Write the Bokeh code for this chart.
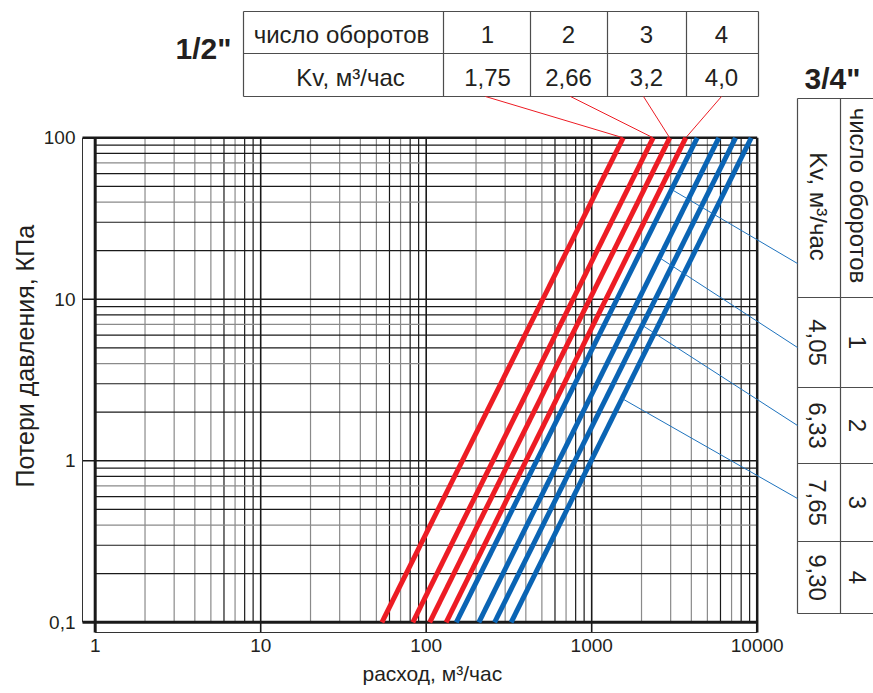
import math
from bokeh.plotting import figure
from bokeh.models import (Range1d, LinearScale, FixedTicker, CustomJSTickFormatter, Label, Title)
from bokeh.embed import file_html
from bokeh.resources import INLINE

# ---------------- data ----------------
turns = ["1", "2", "3", "4"]
kv_half_labels = ["1,75", "2,66", "3,2", "4,0"]          # 1/2"
kv_3q_labels = ["4,05", "6,33", "7,65", "9,30"]          # 3/4"
dp_ends = [0.1, 100]                                      # КПа
red_q_low = [54, 83, 105, 132]                            # flow at 0,1 КПа
red_q_high = [1550, 2350, 2960, 3700]                     # flow at 100 КПа
blue_q_low = [152, 208, 259, 326]
blue_q_high = [4340, 5860, 7400, 9200]
blue_leader_dp = [47.9, 18.1, 6.9, 2.43]                  # where leaders touch blue lines
x_ticks = [1, 10, 100, 1000, 10000]
y_ticks = [0.1, 1, 10, 100]

RED = "#ED1C24"
BLUE = "#0A64B4"
DARK = "#1a1a1a"
GRAY = "#8a8a8a"
TXT = "#231f20"
FONT = "Liberation Sans"

# ---------------- geometry (page pixels) ----------------
W, H = 873, 693
X0, DX = 94.7, 165.5      # page x of Q=1, px per decade
Y0, DY = 137.3, 161.5     # page y of 100 KPa, px per decade
FL, FR, FT, FB = 79, 873, 0, 635


def dx(px):
    return 10 ** ((px - X0) / DX)


def dy(py):
    return 10 ** (2 - (py - Y0) / DY)


def px_x(q):
    return X0 + DX * math.log10(q)


def px_y(v):
    return Y0 + DY * (2 - math.log10(v))


p = figure(width=W, height=H, x_axis_type="log", y_axis_type="log", title=None,
           x_range=Range1d(dx(FL), dx(FR)), y_range=Range1d(dy(FB), dy(FT)),
           output_backend="svg", toolbar_location=None,
           min_border_left=FL, min_border_right=W - FR,
           min_border_top=FT, min_border_bottom=H - FB)
p.extra_x_ranges = {"px": Range1d(FL, FR)}
p.extra_y_ranges = {"px": Range1d(FB, FT)}
p.extra_x_scales = {"px": LinearScale()}
p.extra_y_scales = {"px": LinearScale()}
p.outline_line_color = None
p.grid.visible = False
p.background_fill_color = "white"
p.border_fill_color = "white"

fmt = CustomJSTickFormatter(code="return String(tick).replace('.', ',');")
p.xaxis.ticker = FixedTicker(ticks=x_ticks, minor_ticks=[])
p.yaxis.ticker = FixedTicker(ticks=y_ticks, minor_ticks=[])
p.xaxis.formatter = fmt
p.yaxis.formatter = fmt
for ax in p.axis:
    ax.axis_line_color = None
    ax.major_tick_line_color = None
    ax.minor_tick_line_color = None
    ax.major_tick_out = 0
    ax.major_tick_in = 0
    ax.major_label_text_font = FONT
    ax.major_label_text_font_size = "19px"
    ax.major_label_text_color = TXT
p.xaxis.major_label_standoff = 3
p.yaxis.major_label_standoff = 4

# axis titles, positioned along their sides like the reference
p.add_layout(Title(text="Потери давления, КПа", align="left", offset=148, standoff=4,
                   vertical_align="bottom", text_font=FONT, text_font_size="25px",
                   text_font_style="normal", text_color=TXT), "left")
p.add_layout(Title(text="расход, м³/час", align="left", offset=283, standoff=14,
                   vertical_align="top", text_font=FONT, text_font_size="21px",
                   text_font_style="normal", text_color=TXT), "below")

# ---------------- grid ----------------
x_axis_pos = dx(82)      # offset y-axis line
y_axis_pos = dy(632)     # offset x-axis line
x_gray = {2, 3, 4, 5, 7}
y_gray = {4, 7}
for dec in [1, 10, 100, 1000]:
    for m in range(2, 10):
        v = dec * m
        p.segment(x0=[v], y0=[0.1], x1=[v], y1=[100],
                  line_color=GRAY if m in x_gray else DARK, line_width=1.2)
for dec in [0.1, 1, 10]:
    for m in range(2, 10):
        v = dec * m
        p.segment(x0=[1], y0=[v], x1=[10000], y1=[v],
                  line_color=GRAY if m in y_gray else DARK, line_width=1.2)
# major lines
p.segment(x0=[10, 100, 1000], y0=[y_axis_pos] * 3, x1=[10, 100, 1000], y1=[100] * 3,
          line_color=DARK, line_width=1.6)
p.segment(x0=[x_axis_pos] * 2, y0=[1, 10], x1=[10000] * 2, y1=[1, 10],
          line_color=DARK, line_width=1.6)
# axis lines
p.segment(x0=[x_axis_pos], y0=[0.1], x1=[x_axis_pos], y1=[100], line_color="#333333", line_width=1)
p.segment(x0=[1], y0=[y_axis_pos], x1=[10000], y1=[y_axis_pos], line_color="#333333", line_width=1)
# borders
p.segment(x0=[1], y0=[y_axis_pos], x1=[1], y1=[100], line_color=DARK, line_width=3)
p.segment(x0=[10000], y0=[y_axis_pos], x1=[10000], y1=[100], line_color=DARK, line_width=2.5)
p.segment(x0=[x_axis_pos], y0=[100], x1=[10000], y1=[100], line_color=DARK, line_width=2.5)
p.segment(x0=[x_axis_pos], y0=[0.1], x1=[10000], y1=[0.1], line_color=DARK, line_width=3)

# ---------------- curves ----------------
for lo, hi in zip(red_q_low, red_q_high):
    p.line(x=[lo, hi], y=dp_ends, line_color=RED, line_width=5)
for lo, hi in zip(blue_q_low, blue_q_high):
    p.line(x=[lo, hi], y=dp_ends, line_color=BLUE, line_width=5)


# ---------------- tables and leaders (page-pixel coordinates) ----------------
def seg(x0, y0, x1, y1, color="#4d4d4d", width=1.2):
    p.segment(x0=[x0], y0=[y0], x1=[x1], y1=[y1], line_color=color, line_width=width,
              x_range_name="px", y_range_name="px")


def txt(x, y, s, size="24px", style="normal", angle=0.0, baseline="middle"):
    p.add_layout(Label(x=x, y=y, text=s, text_font=FONT, text_font_size=size,
                       text_font_style=style, text_color=TXT, text_align="center",
                       text_baseline=baseline, angle=angle,
                       x_range_name="px", y_range_name="px"))


# top table (1/2")
tt_cols = [243, 443, 530, 607, 686, 758]
tt_rows = [11, 53, 96]
for yy in tt_rows:
    seg(tt_cols[0], yy, tt_cols[-1], yy)
for xx in tt_cols:
    seg(xx, tt_rows[0], xx, tt_rows[-1])
tt_centers = [487, 568, 646, 721]
txt(341, 34, "число оборотов")
txt(350, 77, "Kv, м³/час")
for cx, t, k in zip(tt_centers, turns, kv_half_labels):
    txt(cx, 34, t)
    txt(cx, 77, k)
txt(203, 48, '1/2"', size="30px", style="bold")

# right table (3/4")
rt_cols = [797, 840]
rt_rows = [98, 297, 387, 463, 541, 613]
for yy in rt_rows:
    seg(rt_cols[0], yy, 875, yy)
for xx in rt_cols:
    seg(xx, rt_rows[0], xx, rt_rows[-1])
rt_centers = [342, 425, 502, 577]
rot = -math.pi / 2
txt(818, 206, "Kv, м³/час", angle=rot)
txt(858, 195, "число оборотов", angle=rot)
for cy, t, k in zip(rt_centers, turns, kv_3q_labels):
    txt(817, cy, k, angle=rot)
    txt(857, cy, t, angle=rot)
txt(832, 78, '3/4"', size="30px", style="bold")

# leader lines
red_leader_start = [485, 570, 643, 721]
for sx, hi in zip(red_leader_start, red_q_high):
    seg(sx, 96, px_x(hi), px_y(100), color=RED, width=1)
blue_leader_end = [263, 347, 425, 498]
for lo, hi, dp, ey in zip(blue_q_low, blue_q_high, blue_leader_dp, blue_leader_end):
    frac = (math.log10(dp) - math.log10(0.1)) / 3.0
    lq = math.log10(lo) + frac * (math.log10(hi) - math.log10(lo))
    seg(px_x(10 ** lq), px_y(dp), 797, ey, color="#1E73BE", width=1)

open("out.html", "w").write(file_html(p, INLINE))
